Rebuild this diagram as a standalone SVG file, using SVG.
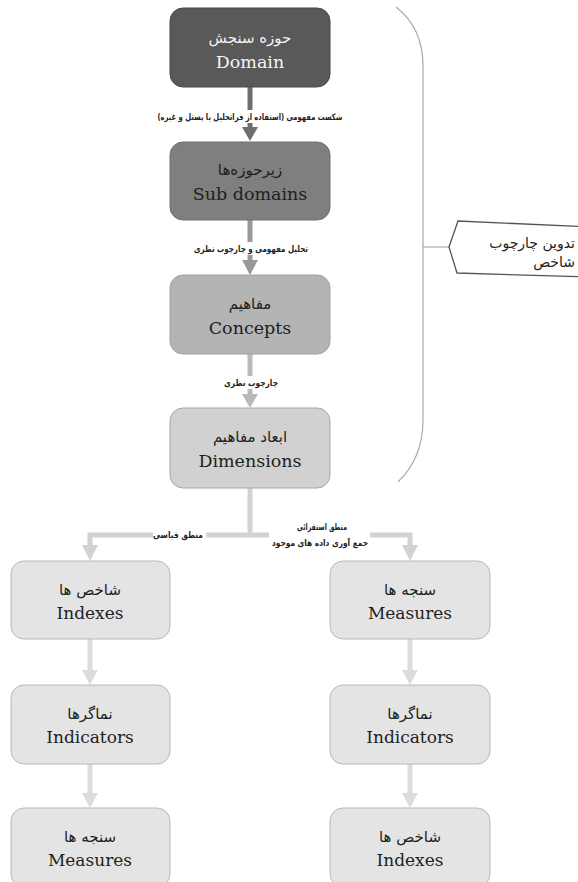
<svg xmlns="http://www.w3.org/2000/svg" width="578" height="882" viewBox="0 0 578 882">
<style>
.box{stroke-width:1}
.fa{font-family:"DejaVu Sans",sans-serif;font-size:15px;text-anchor:middle;direction:rtl}
.en{font-family:"DejaVu Serif",serif;font-size:17.5px;text-anchor:middle}
.en2{font-family:"DejaVu Serif",serif;font-size:17px;text-anchor:middle}
.lbl{font-family:"DejaVu Sans",sans-serif;font-size:9px;font-weight:bold;text-anchor:middle;direction:rtl;fill:#222}
.dark{fill:#1e1e1e}
.light{fill:#f4f4f4}
.ln{fill:none;stroke-width:5}
</style>
<rect width="578" height="882" fill="#fff"/>

<g id="connectors">
  <!-- Domain -> Sub domains -->
  <line class="ln" x1="250" y1="87" x2="250" y2="128" stroke="#6e6e6e"/>
  <polygon points="242,127 258,127 250,141" fill="#6e6e6e"/>
  <rect x="154" y="110" width="192" height="13" fill="#fff"/>
  <text class="lbl" x="250" y="120" textLength="185" lengthAdjust="spacingAndGlyphs">شکست مفهومی (استفاده از فراتحلیل یا پستل و غیره)</text>
  <!-- Sub -> Concepts -->
  <line class="ln" x1="250" y1="220" x2="250" y2="261" stroke="#999"/>
  <polygon points="242,260 258,260 250,275" fill="#999"/>
  <rect x="190" y="242" width="122" height="13" fill="#fff"/>
  <text class="lbl" x="251" y="252" textLength="114" lengthAdjust="spacingAndGlyphs">تحلیل مفهومی و چارچوب نظری</text>
  <!-- Concepts -> Dimensions -->
  <line class="ln" x1="250" y1="354" x2="250" y2="395" stroke="#b9b9b9"/>
  <polygon points="242,394 258,394 250,408" fill="#b9b9b9"/>
  <rect x="222" y="376" width="58" height="13" fill="#fff"/>
  <text class="lbl" x="251" y="386" textLength="54" lengthAdjust="spacingAndGlyphs">چارچوب نظری</text>
  <!-- split -->
  <polyline class="ln" points="250,488 250,535" stroke="#d2d2d2"/>
  <polyline class="ln" points="410,546 410,535 90,535 90,546" stroke="#d2d2d2"/>
  <polygon points="82,545 98,545 90,561" fill="#d2d2d2"/>
  <polygon points="402,545 418,545 410,561" fill="#d2d2d2"/>
  <rect x="153" y="528" width="53" height="14" fill="#fff"/>
  <text class="lbl" x="178" y="538" textLength="50" lengthAdjust="spacingAndGlyphs">منطق قیاسی</text>
  <rect x="269" y="518" width="101" height="30" fill="#fff"/>
  <text class="lbl" x="322" y="530" textLength="50" lengthAdjust="spacingAndGlyphs">منطق استقرائی</text>
  <text class="lbl" x="320" y="546" textLength="96" lengthAdjust="spacingAndGlyphs">جمع آوری داده های موجود</text>
  <!-- lower arrows -->
  <line class="ln" x1="90" y1="639" x2="90" y2="671" stroke="#dcdcdc"/>
  <polygon points="82,670 98,670 90,685" fill="#dcdcdc"/>
  <line class="ln" x1="90" y1="764" x2="90" y2="794" stroke="#dcdcdc"/>
  <polygon points="82,793 98,793 90,808" fill="#dcdcdc"/>
  <line class="ln" x1="410" y1="639" x2="410" y2="671" stroke="#dcdcdc"/>
  <polygon points="402,670 418,670 410,685" fill="#dcdcdc"/>
  <line class="ln" x1="410" y1="764" x2="410" y2="794" stroke="#dcdcdc"/>
  <polygon points="402,793 418,793 410,808" fill="#dcdcdc"/>
</g>

<g id="bracket">
  <path d="M396,7 Q423,28 423,66 L423,420 Q423,458 398,482" fill="none" stroke="#aaa" stroke-width="1.2"/>
  <line x1="423" y1="247" x2="449" y2="247" stroke="#aaa" stroke-width="1.2"/>
</g>

<g id="callout">
  <polygon points="449,247 458,221 590,227 590,277 457,273" fill="#fff" stroke="#555" stroke-width="1.3"/>
  <text class="fa" style="text-anchor:start;font-size:14px" x="575" y="248" fill="#222">تدوین چارچوب</text>
  <text class="fa" style="text-anchor:start;font-size:14px" x="575" y="267" fill="#222">شاخص</text>
</g>

<g id="domain">
  <rect class="box" x="170" y="8" width="160" height="79" rx="13" fill="#595959" stroke="#4a4a4a"/>
  <text class="fa light" x="250" y="43">حوزه سنجش</text>
  <text class="en light" x="250" y="68">Domain</text>
</g>
<g id="subdomains">
  <rect class="box" x="170" y="142" width="160" height="78" rx="13" fill="#7f7f7f" stroke="#707070"/>
  <text class="fa dark" x="250" y="175">زیرحوزه‌ها</text>
  <text class="en dark" x="250" y="200">Sub domains</text>
</g>
<g id="concepts">
  <rect class="box" x="170" y="275" width="160" height="79" rx="13" fill="#b4b4b4" stroke="#a0a0a0"/>
  <text class="fa dark" x="250" y="309">مفاهیم</text>
  <text class="en dark" x="250" y="334">Concepts</text>
</g>
<g id="dimensions">
  <rect class="box" x="170" y="408" width="160" height="80" rx="13" fill="#d1d1d1" stroke="#a8a8a8"/>
  <text class="fa dark" x="250" y="442">ابعاد مفاهیم</text>
  <text class="en dark" x="250" y="467">Dimensions</text>
</g>

<g id="indexes-left">
  <rect class="box" x="11" y="561" width="159" height="78" rx="13" fill="#e4e4e4" stroke="#b8b8b8"/>
  <text class="fa dark" x="90" y="595">شاخص ها</text>
  <text class="en2 dark" x="90" y="619">Indexes</text>
</g>
<g id="indicators-left">
  <rect class="box" x="11" y="685" width="159" height="79" rx="13" fill="#e4e4e4" stroke="#b8b8b8"/>
  <text class="fa dark" x="90" y="719">نماگرها</text>
  <text class="en2 dark" x="90" y="743">Indicators</text>
</g>
<g id="measures-left">
  <rect class="box" x="11" y="808" width="159" height="79" rx="13" fill="#e4e4e4" stroke="#b8b8b8"/>
  <text class="fa dark" x="90" y="842">سنجه ها</text>
  <text class="en2 dark" x="90" y="866">Measures</text>
</g>

<g id="measures-right">
  <rect class="box" x="330" y="561" width="160" height="78" rx="13" fill="#e4e4e4" stroke="#b8b8b8"/>
  <text class="fa dark" x="410" y="595">سنجه ها</text>
  <text class="en2 dark" x="410" y="619">Measures</text>
</g>
<g id="indicators-right">
  <rect class="box" x="330" y="685" width="160" height="79" rx="13" fill="#e4e4e4" stroke="#b8b8b8"/>
  <text class="fa dark" x="410" y="719">نماگرها</text>
  <text class="en2 dark" x="410" y="743">Indicators</text>
</g>
<g id="indexes-right">
  <rect class="box" x="330" y="808" width="160" height="79" rx="13" fill="#e4e4e4" stroke="#b8b8b8"/>
  <text class="fa dark" x="410" y="842">شاخص ها</text>
  <text class="en2 dark" x="410" y="866">Indexes</text>
</g>
</svg>
